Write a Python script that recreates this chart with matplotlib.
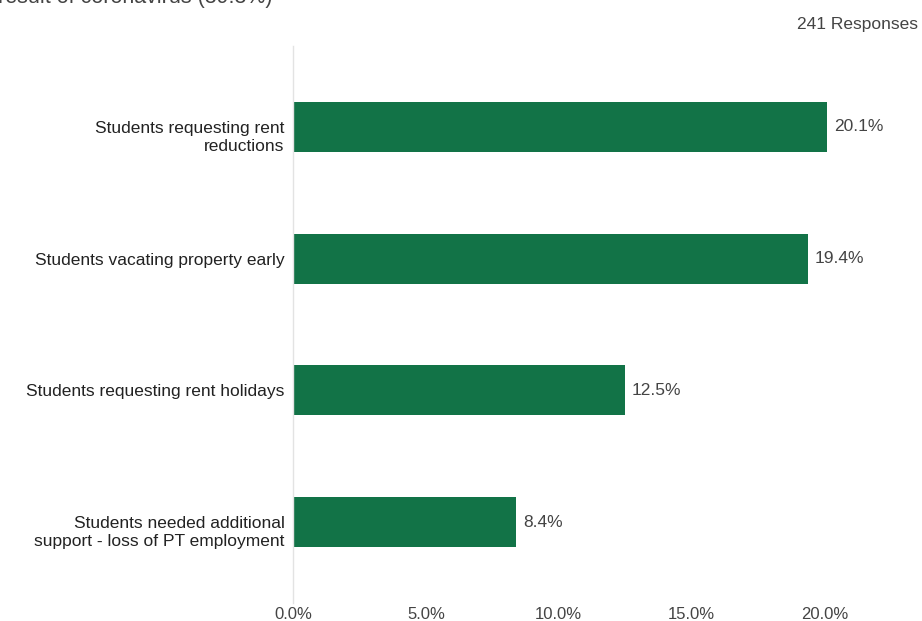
import matplotlib
matplotlib.use("Agg")
from matplotlib import pyplot as plt
from matplotlib.ticker import FuncFormatter

plt.rcParams['font.family'] = ['Liberation Sans', 'DejaVu Sans']

categories = [
    "Students requesting rent\nreductions",
    "Students vacating property early",
    "Students requesting rent holidays",
    "Students needed additional\nsupport - loss of PT employment",
]
values = [20.1, 19.4, 12.5, 8.4]
xticks = [0, 5, 10, 15, 20]

bar_color = "#127347"
text_color = "#444444"
fs = 12.5

fig = plt.figure(figsize=(9.22, 6.21), dpi=100)
ax = fig.add_axes([293 / 922, 1 - 603 / 621, 1 - 293 / 922 - 0.005, (603 - 46) / 621])

ypos = list(range(len(categories)))
bars = ax.barh(ypos, values, height=0.38, color=bar_color)

for b, v in zip(bars, values):
    ax.text(b.get_width() + 0.25, b.get_y() + b.get_height() / 2, f"{v:.1f}%",
            va="center", ha="left", fontsize=fs, color=text_color)

# category labels: first line sits level with the bar, extra lines hang below
ytrans = ax.get_yaxis_transform()
for y, label in zip(ypos, categories):
    for i, line in enumerate(label.split("\n")):
        ax.annotate(line, xy=(0, y), xycoords=ytrans,
                    xytext=(-6, -1 - 12.8 * i), textcoords="offset points",
                    ha="right", va="center", fontsize=fs, color="#222222")

ax.set_yticks(ypos)
ax.set_yticklabels([])
ax.set_ylim(3.614, -0.614)
ax.set_xlim(0, 23.5)
ax.set_xticks(xticks)
ax.xaxis.set_major_formatter(FuncFormatter(lambda x, _: f"{x:.1f}%"))
ax.tick_params(axis="x", length=0, pad=3, labelsize=12, labelcolor=text_color)
ax.tick_params(axis="y", length=0)

for s in ["top", "right", "bottom"]:
    ax.spines[s].set_visible(False)
ax.spines["left"].set_color("#e3e3e3")
ax.spines["left"].set_linewidth(1)

# question title runs off the top edge of the page
fig.text(272 / 922, 1 - 2.5 / 621, "result of coronavirus (39.3%)", ha="right",
         va="baseline", fontsize=15.5, color=text_color)
fig.text(918 / 922, 1 - 29 / 621, "241 Responses", ha="right", va="baseline",
         fontsize=fs, color=text_color)

fig.savefig("out.png", dpi=100)
